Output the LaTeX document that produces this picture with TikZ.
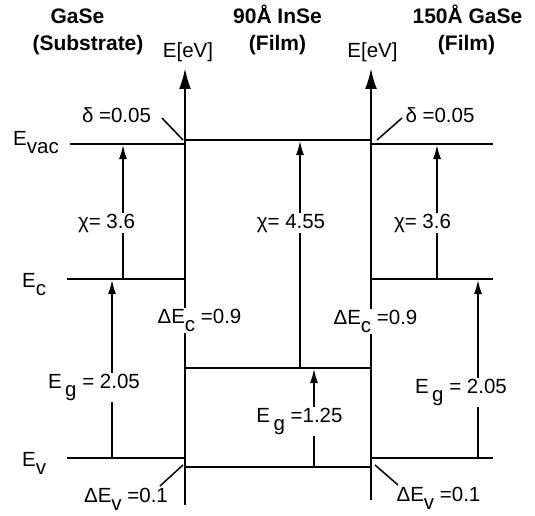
\documentclass[tikz,border=0pt]{standalone}
\usepackage{fontspec}
\setmainfont{Liberation Sans}
\usetikzlibrary{arrows.meta}

% indice rebaixado, mesmo tamanho do texto
\newcommand{\ind}[1]{\raisebox{-0.42em}{#1}}

\begin{document}
\begin{tikzpicture}[
    x=1pt, y=-1pt,
    >={Latex[length=14pt,width=8pt]},
    font=\fontsize{20.5}{24}\selectfont,
    % Estilos padronizados
    nivel/.style={line width=2pt},
    seta/.style={->, line width=1.5pt},
    eixo/.style={-{Latex[length=21pt,width=12pt]}, line width=2.5pt},
    guia/.style={line width=1.5pt},
    rotulo/.style={fill=white, inner sep=1pt, anchor=base},
    titulo/.style={font=\fontsize{21}{25}\selectfont\bfseries, anchor=base}
]
\useasboundingbox (0,0) rectangle (535,516);

% =========================================================
% === PARAMETROS DA GRADE (em pixels da figura) ===
% =========================================================
\def\xEixoA{185}   % eixo de energia esquerdo
\def\xEixoB{371}   % eixo de energia direito
% =========================================================

% Macro para cada nivel de energia
% #1: nome, #2, #3: x inicial e final, #4: y
\def\nivelE#1(#2,#3,#4){
    \coordinate (#1-a) at (#2,#4);
    \coordinate (#1-b) at (#3,#4);
    \draw[nivel] (#1-a) -- (#1-b);
}

% Macro para cada seta vertical
% #1: nome, #2: x, #3: y de partida, #4: y de chegada
\def\setaE#1(#2,#3,#4){
    \coordinate (#1-a) at (#2,#3);
    \coordinate (#1-b) at (#2,#4);
    \draw[seta] (#1-a) -- (#1-b);
}

% --- Niveis: GaSe (substrato) ---
\nivelE{vacL}(70,\xEixoA,144)
\nivelE{cL}(67,\xEixoA,279)
\nivelE{vL}(67,\xEixoA,458)

% --- Niveis: InSe (filme) ---
\nivelE{vacM}(\xEixoA,\xEixoB,140)
\nivelE{cM}(\xEixoA,\xEixoB,368)
\nivelE{vM}(\xEixoA,\xEixoB,467)

% --- Niveis: GaSe (filme) ---
\nivelE{vacR}(\xEixoB,493,144)
\nivelE{cR}(\xEixoB,493,279)
\nivelE{vR}(\xEixoB,493,458)

% --- Setas verticais (chi e Eg) ---
\setaE{chiL}(123,279,145)
\setaE{gL}(112,458,280)
\setaE{chiM}(300,368,141)
\setaE{gM}(314,467,369)
\setaE{chiR}(437,279,145)
\setaE{gR}(478,458,280)

% --- Eixos de energia ---
\coordinate (eixoA-a) at (\xEixoA,505);
\coordinate (eixoA-b) at (\xEixoA,68);
\coordinate (eixoB-a) at (\xEixoB,500);
\coordinate (eixoB-b) at (\xEixoB,68);
\draw[eixo] (eixoA-a) -- (eixoA-b);
\draw[eixo] (eixoB-a) -- (eixoB-b);

% --- Linhas-guia das descontinuidades ---
\coordinate (dL-a) at (162,118);  \coordinate (dL-b) at (183,140);
\coordinate (dR-a) at (402,118);  \coordinate (dR-b) at (377,140);
\coordinate (vLg-a) at (160,486); \coordinate (vLg-b) at (183,465);
\coordinate (vRg-a) at (398,485); \coordinate (vRg-b) at (375,465);
\draw[guia] (dL-a) -- (dL-b);
\draw[guia] (dR-a) -- (dR-b);
\draw[guia] (vLg-a) -- (vLg-b);
\draw[guia] (vRg-a) -- (vRg-b);

% --- Titulos ---
\node[titulo] (tGa1) at (77.5,24) {GaSe};
\node[titulo] (tGa2) at (88,51) {(Substrate)};
\node[titulo] (tIn1) at (277.5,24) {90Å InSe};
\node[titulo] (tIn2) at (277.5,51) {(Film)};
\node[titulo] (tGb1) at (467.5,24) {150Å GaSe};
\node[titulo] (tGb2) at (466.5,51) {(Film)};
\node[anchor=base] (eA) at (188,58) {E[eV]};
\node[anchor=base] (eB) at (372.5,58) {E[eV]};

% --- Nomes dos niveis ---
\node[anchor=base west, inner sep=0pt] (nVac) at (13,145) {E\ind{vac}};
\node[anchor=base west, inner sep=0pt] (nC) at (22,287) {E\ind{c}};
\node[anchor=base west, inner sep=0pt] (nV) at (22,466) {E\ind{v}};

% --- Rotulos (fundo branco interrompe as linhas) ---
\node[rotulo] (dLtxt) at (116.5,122) {δ =0.05};
\node[rotulo] (dRtxt) at (440,122) {δ =0.05};
\node[rotulo] (chiLtxt) at (106.5,228) {χ= 3.6};
\node[rotulo] (chiMtxt) at (291,228) {χ= 4.55};
\node[rotulo] (chiRtxt) at (422.5,228) {χ= 3.6};
\node[rotulo] (gLtxt) at (94,388) {E\,\ind{g} = 2.05};
\node[rotulo] (gMtxt) at (299.5,422) {E\,\ind{g} =1.25};
\node[rotulo] (gRtxt) at (461,393) {E\,\ind{g} = 2.05};
\node[rotulo] (cLtxt) at (199.5,323) {ΔE\ind{c} =0.9};
\node[rotulo] (cRtxt) at (375.5,324) {ΔE\ind{c} =0.9};
\node[rotulo, inner sep=0pt] (vLtxt) at (126,502) {ΔE\ind{v} =0.1};
\node[rotulo, inner sep=0pt] (vRtxt) at (438.5,501) {ΔE\ind{v} =0.1};

\end{tikzpicture}
\end{document}
